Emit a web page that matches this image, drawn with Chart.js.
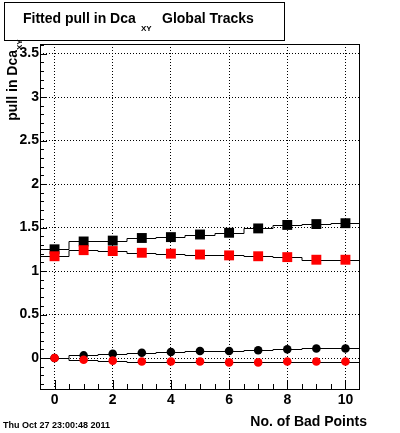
<!DOCTYPE html>
<html>
<head>
<meta charset="utf-8">
<script src="https://cdn.jsdelivr.net/npm/chart.js@4.4.1/dist/chart.umd.min.js"></script>
<style>
  html, body { margin: 0; padding: 0; background: #fff; }
  #wrap { width: 400px; height: 433px; position: relative; }
</style>
</head>
<body>
<div id="wrap"><canvas id="pullChart"></canvas></div>
<script>
// number of bad points (bin centres)
const badPoints = [0, 1, 2, 3, 4, 5, 6, 7, 8, 9, 10];

// fitted sigma / mean of the pull
const sigmaBlack = [1.25, 1.34, 1.35, 1.38, 1.39, 1.42, 1.44, 1.49, 1.53, 1.54, 1.55];
const sigmaRed = [1.17, 1.24, 1.23, 1.21, 1.20, 1.19, 1.18, 1.17, 1.16, 1.13, 1.13];
const meanBlack = [0.00, 0.03, 0.05, 0.06, 0.07, 0.08, 0.08, 0.09, 0.10, 0.11, 0.11];
const meanRed = [0.00, -0.02, -0.03, -0.04, -0.04, -0.04, -0.05, -0.05, -0.04, -0.04, -0.04];

const yTickValues = [0, 0.5, 1, 1.5, 2, 2.5, 3, 3.5];
const xTickValues = [0, 2, 4, 6, 8, 10];

const FONT = "'Liberation Sans', Arial, Helvetica, sans-serif";

function toPoints(ys) {
  return badPoints.map((x, i) => ({ x: x, y: ys[i] }));
}

// histogram-like step outline under each series, drawn like ROOT does
const rootStyle = {
  id: "rootStyle",
  beforeDatasetsDraw(chart) {
    const ctx = chart.ctx;
    const xs = chart.scales.x;
    const ys = chart.scales.y;
    const area = chart.chartArea;
    ctx.save();
    ctx.beginPath();
    ctx.rect(area.left, area.top, area.right - area.left, area.bottom - area.top);
    ctx.clip();
    ctx.strokeStyle = "#000";
    ctx.lineWidth = 1;
    chart.data.datasets.forEach((ds) => {
      const pts = ds.data;
      ctx.beginPath();
      pts.forEach((p, i) => {
        const xl = Math.round(xs.getPixelForValue(p.x - 0.5));
        const xr = Math.round(xs.getPixelForValue(p.x + 0.5));
        const yy = Math.round(ys.getPixelForValue(p.y)) + 0.5;
        if (i === 0) ctx.moveTo(xl, yy);
        else ctx.lineTo(xl, yy);
        ctx.lineTo(xr, yy);
      });
      ctx.stroke();
    });
    ctx.restore();
  },
  afterDraw(chart) {
    const ctx = chart.ctx;
    const xs = chart.scales.x;
    const ys = chart.scales.y;
    const a = chart.chartArea;
    ctx.save();
    ctx.strokeStyle = "#000";
    ctx.lineWidth = 1;
    // frame
    ctx.strokeRect(Math.round(a.left) + 0.5, Math.round(a.top) + 0.5,
      Math.round(a.right - a.left) - 1, Math.round(a.bottom - a.top));
    // y ticks
    ctx.beginPath();
    for (let k = -3; k <= 36; k++) {
      const v = k / 10;
      const py = Math.round(ys.getPixelForValue(v)) + 0.5;
      const len = k % 5 === 0 ? 7 : 4;
      ctx.moveTo(a.left, py);
      ctx.lineTo(a.left + len, py);
    }
    // x ticks
    for (let k = 0; k <= 20; k++) {
      const v = k / 2;
      const px = Math.round(xs.getPixelForValue(v)) + 0.5;
      const len = k % 4 === 0 ? 9 : 5;
      ctx.moveTo(px, a.bottom);
      ctx.lineTo(px, a.bottom - len);
    }
    ctx.stroke();

    // title box
    ctx.fillStyle = "#fff";
    ctx.fillRect(4, 2, 280, 38);
    ctx.strokeRect(4.5, 2.5, 280, 38);
    ctx.fillStyle = "#000";
    ctx.textBaseline = "alphabetic";
    ctx.textAlign = "left";
    ctx.font = "bold 14px " + FONT;
    ctx.fillText("Fitted pull in Dca", 23, 23);
    ctx.fillText("Global Tracks", 162, 23);
    ctx.font = "bold 8px " + FONT;
    ctx.fillText("XY", 141, 31);

    // y title (rotated)
    ctx.save();
    ctx.translate(17, 50);
    ctx.rotate(-Math.PI / 2);
    ctx.textAlign = "right";
    ctx.font = "bold 14px " + FONT;
    ctx.fillText("pull in Dca", 0, 0);
    ctx.textAlign = "left";
    ctx.font = "bold 8px " + FONT;
    ctx.fillText("XY", 0, 5);
    ctx.restore();

    // x title
    ctx.textAlign = "right";
    ctx.font = "bold 14px " + FONT;
    ctx.fillText("No. of Bad Points", 367, 426);

    // date stamp
    ctx.textAlign = "left";
    ctx.font = "bold 9px " + FONT;
    ctx.fillText("Thu Oct 27 23:00:48 2011", 3, 428);
    ctx.restore();
  }
};

const ctx = document.getElementById("pullChart").getContext("2d");
new Chart(ctx, {
  type: "scatter",
  data: {
    datasets: [
      {
        label: "sigma red",
        data: toPoints(sigmaRed),
        pointStyle: "rect",
        pointRadius: 7,
        pointBackgroundColor: "#ff0000",
        pointBorderWidth: 0,
        showLine: false
      },
      {
        label: "mean red",
        data: toPoints(meanRed),
        pointStyle: "circle",
        pointRadius: 4.3,
        pointBackgroundColor: "#ff0000",
        pointBorderWidth: 0,
        showLine: false
      },
      {
        label: "sigma black",
        data: toPoints(sigmaBlack),
        pointStyle: "rect",
        pointRadius: 7,
        pointBackgroundColor: "#000000",
        pointBorderWidth: 0,
        showLine: false
      },
      {
        label: "mean black",
        data: toPoints(meanBlack),
        pointStyle: "circle",
        pointRadius: 4.3,
        pointBackgroundColor: "#000000",
        pointBorderWidth: 0,
        showLine: false
      }
    ]
  },
  options: {
    responsive: true,
    maintainAspectRatio: false,
    animation: false,
    layout: { padding: { top: 44, right: 40, left: 0, bottom: 0 } },
    plugins: {
      legend: { display: false },
      tooltip: { enabled: false },
      title: { display: false }
    },
    scales: {
      x: {
        type: "linear",
        min: -0.5,
        max: 10.5,
        afterFit: (scale) => { scale.height = 44; },
        afterBuildTicks: (scale) => {
          scale.ticks = xTickValues.map((v) => ({ value: v }));
        },
        ticks: {
          includeBounds: false,
          padding: 3,
          color: "#000",
          font: { family: FONT, size: 14, weight: "bold" },
          callback: (v) => String(v)
        },
        grid: { color: "#000", lineWidth: 1, drawTicks: false },
        border: { display: false, dash: [1, 2] }
      },
      y: {
        type: "linear",
        min: -0.356,
        max: 3.61,
        afterFit: (scale) => { scale.width = 40; },
        afterBuildTicks: (scale) => {
          scale.ticks = yTickValues.map((v) => ({ value: v }));
        },
        ticks: {
          includeBounds: false,
          padding: 1,
          color: "#000",
          font: { family: FONT, size: 14, weight: "bold" },
          callback: (v) => String(v)
        },
        grid: { color: "#000", lineWidth: 1, drawTicks: false },
        border: { display: false, dash: [1, 2] }
      }
    }
  },
  plugins: [rootStyle]
});
</script>
</body>
</html>
